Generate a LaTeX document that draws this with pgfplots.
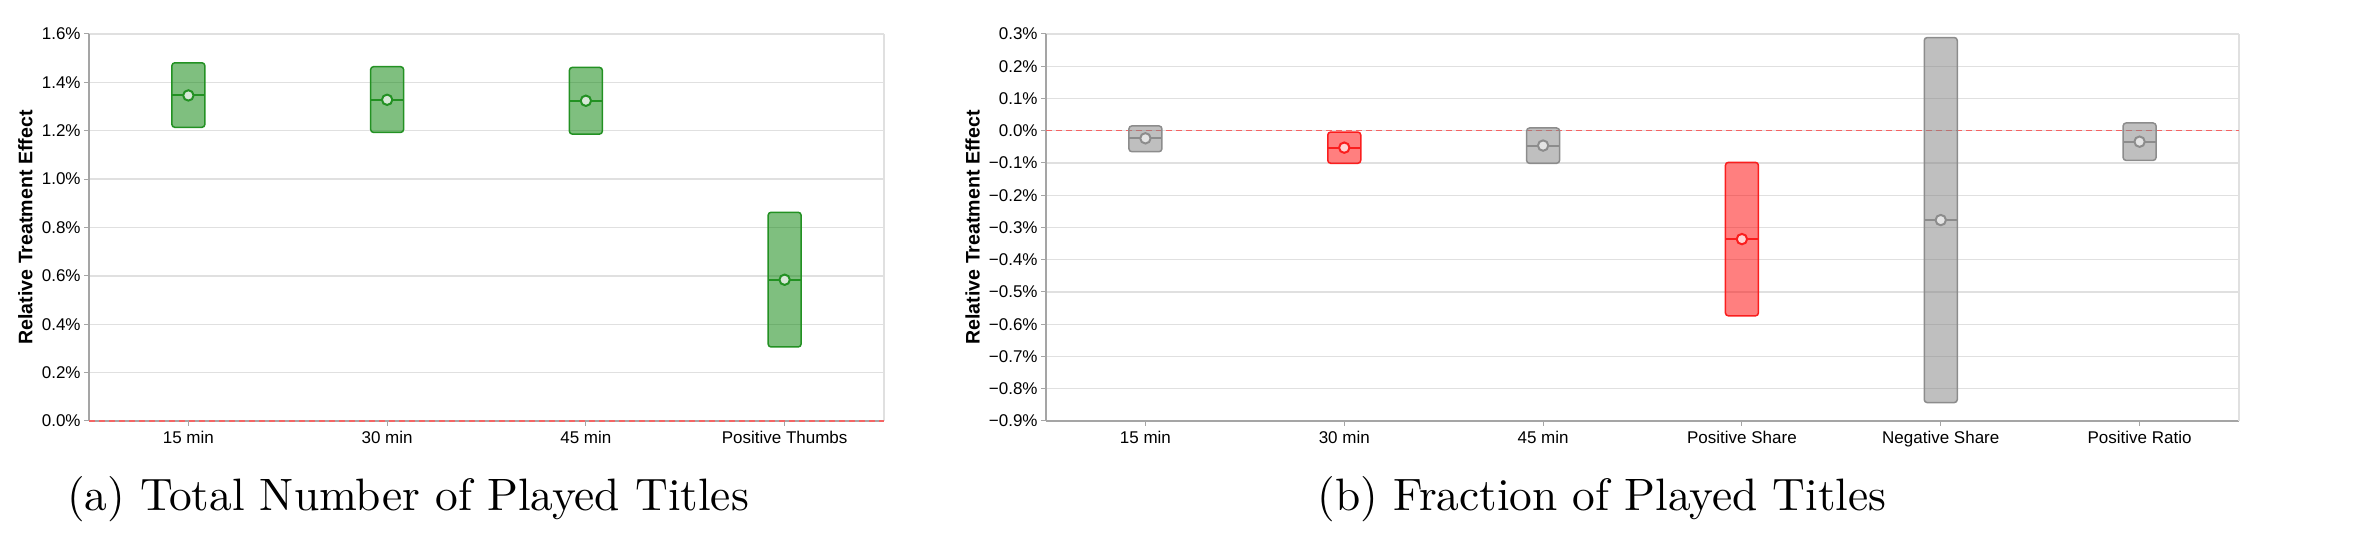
\documentclass[border=0pt]{standalone}
\usepackage{pgfplots}
\pgfplotsset{compat=1.18}
\usepgfplotslibrary{statistics}
\usepackage{fontspec}
\newfontfamily\arial{Liberation Sans}
\newfontfamily\capfont{lmroman10-regular.otf}

\definecolor{axisgray}{RGB}{165,165,165}
\definecolor{gridgray}{RGB}{224,224,224}
\definecolor{zerored}{RGB}{245,100,100}
\definecolor{fillgreen}{RGB}{0,128,0}
\definecolor{edgegreen}{RGB}{35,145,35}
\definecolor{dotgreen}{RGB}{215,232,215}
\definecolor{fillred}{RGB}{255,0,0}
\definecolor{edgered}{RGB}{250,30,30}
\definecolor{dotred}{RGB}{255,210,210}
\definecolor{fillgray}{RGB}{128,128,128}
\definecolor{edgegray}{RGB}{140,140,140}
\definecolor{dotgray}{RGB}{228,228,228}

\pgfplotsset{
    rte/.style={
        scale only axis,
        height=193.5pt,
        axis lines*=left,
        axis line style={draw=axisgray, line width=1pt},
        ymajorgrids,
        grid style={draw=gridgray, line width=0.7pt},
        tick align=outside,
        major tick length=2.5pt,
        tick style={draw=axisgray, line width=0.5pt},
        ticklabel style={font=\arial\fontsize{8.5}{10}\selectfont, inner sep=0pt},
        xticklabel style={anchor=north, yshift=-2.5pt},
        yticklabel style={anchor=east, xshift=-1.5pt},
        ylabel style={font=\arial\bfseries\fontsize{9.8}{12}\selectfont, anchor=center},
        boxplot/draw direction=y,
        clip=false,
    },
    % one box: fill, edge colour
    tbox/.style 2 args={
        boxplot/box extend=0.166,
        boxplot/every box/.style={draw=#2, fill=#1, fill opacity=0.5, line width=0.75pt, rounded corners=1.5pt},
        boxplot/every median/.style={draw=#2, line width=1pt},
        boxplot/draw/lower whisker/.code={},
        boxplot/draw/upper whisker/.code={},
    },
    gbox/.style={tbox={fillgreen}{edgegreen}},
    rbox/.style={tbox={fillred}{edgered}},
    kbox/.style={tbox={fillgray}{edgegray}},
    tdot/.style 2 args={only marks, mark=*, mark size=2.6pt, mark options={draw=#2, fill=#1, line width=1pt}},
    zeroline/.style={dash pattern=on 3pt off 2pt, draw=zerored, line width=0.7pt},
}

\begin{document}
\begin{tikzpicture}[x=1pt, y=1pt]
\useasboundingbox (0,0) rectangle (1180,270);

% (a) Total Number of Played Titles
\begin{axis}[
    rte,
    at={(44.5pt,59.5pt)}, anchor=south west,
    width=397.5pt,
    xmin=-0.5, xmax=3.5,
    ymin=0, ymax=1.6,
    xtick={0,1,2,3},
    xticklabels={15 min, 30 min, 45 min, Positive Thumbs},
    ytick={0,0.2,0.4,0.6,0.8,1.0,1.2,1.4,1.6},
    yticklabels={0.0\%,0.2\%,0.4\%,0.6\%,0.8\%,1.0\%,1.2\%,1.4\%,1.6\%},
    ylabel={Relative Treatment Effect},
    ylabel style={at={(axis description cs:-0.0799,0.5)}},
]
\addplot[draw=gridgray, line width=0.7pt] coordinates {(3.5,0) (3.5,1.6)};
\addplot[gbox, boxplot prepared={draw position=0, lower whisker=1.214, lower quartile=1.214, median=1.346, upper quartile=1.481, upper whisker=1.481}] coordinates {};
\addplot[gbox, boxplot prepared={draw position=1, lower whisker=1.193, lower quartile=1.193, median=1.328, upper quartile=1.465, upper whisker=1.465}] coordinates {};
\addplot[gbox, boxplot prepared={draw position=2, lower whisker=1.186, lower quartile=1.186, median=1.324, upper quartile=1.462, upper whisker=1.462}] coordinates {};
\addplot[gbox, boxplot prepared={draw position=3, lower whisker=0.306, lower quartile=0.306, median=0.584, upper quartile=0.863, upper whisker=0.863}] coordinates {};
\addplot[tdot={dotgreen}{edgegreen}] coordinates {(0,1.346) (1,1.328) (2,1.324) (3,0.584)};
\addplot[zeroline] coordinates {(-0.5,0) (3.5,0)};
\end{axis}

% (b) Fraction of Played Titles
\begin{axis}[
    rte,
    at={(523pt,59.5pt)}, anchor=south west,
    width=596.5pt,
    xmin=-0.5, xmax=5.5,
    ymin=-0.9, ymax=0.3,
    xtick={0,1,2,3,4,5},
    xticklabels={15 min, 30 min, 45 min, Positive Share, Negative Share, Positive Ratio},
    ytick={-0.9,-0.8,-0.7,-0.6,-0.5,-0.4,-0.3,-0.2,-0.1,0,0.1,0.2,0.3},
    yticklabels={−0.9\%,−0.8\%,−0.7\%,−0.6\%,−0.5\%,−0.4\%,−0.3\%,−0.2\%,−0.1\%,0.0\%,0.1\%,0.2\%,0.3\%},
    ylabel={Relative Treatment Effect},
    ylabel style={at={(axis description cs:-0.0616,0.5)}},
]
\addplot[draw=gridgray, line width=0.7pt] coordinates {(5.5,-0.9) (5.5,0.3)};
\addplot[zeroline] coordinates {(-0.5,0) (5.5,0)};
\addplot[kbox, boxplot prepared={draw position=0, lower whisker=-0.065, lower quartile=-0.065, median=-0.0235, upper quartile=0.015, upper whisker=0.015}] coordinates {};
\addplot[rbox, boxplot prepared={draw position=1, lower whisker=-0.101, lower quartile=-0.101, median=-0.0525, upper quartile=-0.004, upper whisker=-0.004}] coordinates {};
\addplot[kbox, boxplot prepared={draw position=2, lower whisker=-0.101, lower quartile=-0.101, median=-0.046, upper quartile=0.0085, upper whisker=0.0085}] coordinates {};
\addplot[rbox, boxplot prepared={draw position=3, lower whisker=-0.574, lower quartile=-0.574, median=-0.336, upper quartile=-0.098, upper whisker=-0.098}] coordinates {};
\addplot[kbox, boxplot prepared={draw position=4, lower whisker=-0.843, lower quartile=-0.843, median=-0.277, upper quartile=0.289, upper whisker=0.289}] coordinates {};
\addplot[kbox, boxplot prepared={draw position=5, lower whisker=-0.092, lower quartile=-0.092, median=-0.034, upper quartile=0.024, upper whisker=0.024}] coordinates {};
\addplot[tdot={dotgray}{edgegray}] coordinates {(0,-0.0235) (2,-0.046) (4,-0.277) (5,-0.034)};
\addplot[tdot={dotred}{edgered}] coordinates {(1,-0.0525) (3,-0.336)};
\end{axis}

\node[font=\capfont\fontsize{22.7}{27}\selectfont, anchor=base] at (204,14.5) {(a) Total Number of Played Titles};
\node[font=\capfont\fontsize{22.7}{27}\selectfont, anchor=base] at (801,14.5) {(b) Fraction of Played Titles};
\end{tikzpicture}
\end{document}
